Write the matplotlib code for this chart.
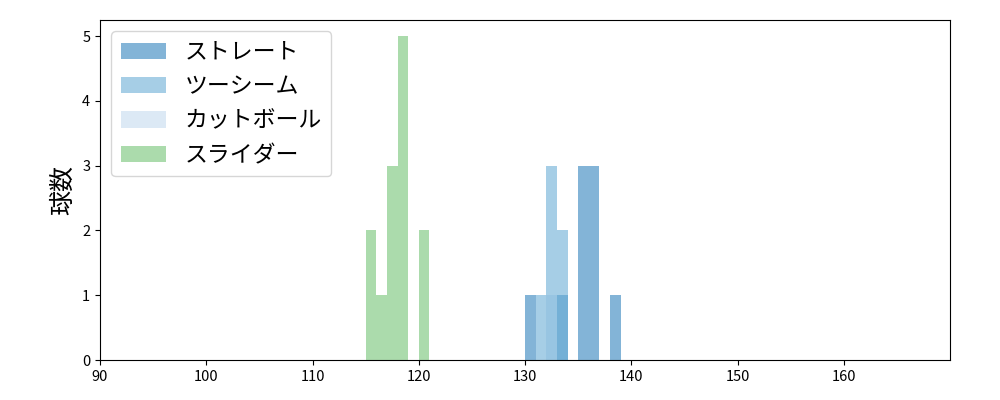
import numpy as np
import matplotlib
matplotlib.use("Agg")
import matplotlib.pyplot as plt

plt.rcParams['font.family'] = ['Noto Sans CJK JP', 'DejaVu Sans']

# 球速 (km/h) per pitch type
straight = [130.5, 133.5, 135.2, 135.5, 135.8, 136.2, 136.5, 136.8, 138.5]
two_seam = [131.5, 132.2, 132.5, 132.8, 133.3, 133.7]
cutball = [132.5]
slider = [115.3, 115.7, 116.5, 117.2, 117.5, 117.8, 118.1, 118.3, 118.5, 118.7, 118.9, 120.3, 120.7]

labels = ["ストレート", "ツーシーム", "カットボール", "スライダー"]
colors = ["#3182bd", "#6baed6", "#c6dbef", "#74c476"]
zorders = [1, 1, 0.5, 1]

bins = np.arange(90, 171, 1)

fig, ax = plt.subplots(figsize=(10, 4), dpi=100)
fig.subplots_adjust(left=0.1, right=0.95, bottom=0.1, top=0.95)

for data, lab, col, z in zip([straight, two_seam, cutball, slider], labels, colors, zorders):
    ax.hist(data, bins=bins, color=col, alpha=0.6, label=lab, zorder=z)

ax.set_xlim(90, 170)
ax.set_xticks(np.arange(90, 170, 10))
ax.set_yticks(range(0, 6))
ax.tick_params(labelsize=10.5)
ax.set_ylabel("球数", fontsize=18)
ax.legend(loc="upper left", fontsize=16.5)

fig.savefig("out.png")
